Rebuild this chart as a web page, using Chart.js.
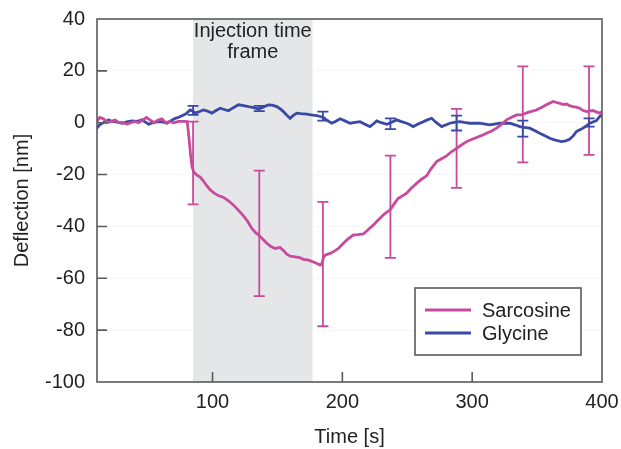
<!DOCTYPE html>
<html>
<head>
<meta charset="utf-8">
<script src="https://cdn.jsdelivr.net/npm/chart.js@4"></script>
<style>
  html, body { margin: 0; padding: 0; background: #fff; }
  #wrap { width: 621px; height: 449px; }
</style>
</head>
<body>
<div id="wrap"><canvas id="chart"></canvas></div>
<script>
// 曲线数据 (时间 s, 偏移 nm)
const sarcTime = [11, 13, 16, 19, 22, 25, 28, 31, 34, 37, 40, 43, 46, 49, 52, 55, 58, 61, 64, 67, 70, 74, 78, 80.5, 82, 83, 84.2, 85.5, 88, 90.5, 93, 95.7, 98, 100.8, 104, 108.5, 112, 116, 120, 124, 127, 130.3, 133, 135.4, 138, 141.8, 145, 148.2, 152, 155, 157.2, 160, 163.6, 167, 170, 174, 177.7, 180, 182.8, 184.2, 185.4, 187, 190.5, 193, 197, 200.8, 204, 208.5, 212, 216.2, 220, 223.8, 227, 231.5, 234, 236.7, 240, 243, 246, 249.5, 253, 257.2, 261, 264.9, 268, 272.6, 276, 280.3, 284, 288, 292, 295.7, 299, 303.4, 307, 311, 315, 318.8, 322, 326.5, 330, 334.2, 338, 343, 349.5, 353, 357.2, 360, 362.3, 365, 367.5, 370, 372.6, 375, 377.7, 380, 382.8, 385, 388, 391, 393, 396, 398.2, 400];
const sarcValues = [0.5, 2, 1.5, 0, 0.5, 1, 0, 0, -0.5, 0, 0.5, 0, 1, 2, 1, 0, 1, 1.5, 0, 0.5, 0, 0.5, 0.5, 0.4, -6.5, -12, -17, -19, -20.2, -21, -22.5, -24.4, -25.8, -27, -28, -28.8, -30, -31.7, -33.8, -36, -38, -40.8, -42.3, -43.3, -44.6, -46.5, -47.8, -48.5, -48.1, -49.5, -50.7, -51.5, -51.7, -52, -52.7, -53, -53.7, -54.2, -54.9, -54.5, -52, -51, -50.4, -49.8, -48.5, -46.5, -45, -43.3, -43.2, -42.9, -41.2, -39.5, -37.8, -35.6, -34.6, -33.7, -31.2, -29.2, -28.3, -27.2, -25.3, -23.4, -21.8, -20.5, -18, -15, -14, -12.8, -11.2, -9.9, -8.5, -7.3, -6.6, -5.7, -5, -4.1, -3.2, -2.1, -0.8, 1.1, 2, 3, 3, 4, 4.9, 5.8, 6.9, 7.6, 8.2, 7.8, 7.5, 7, 7.2, 6.6, 6.2, 6, 5.6, 4.8, 4.3, 4.6, 4.7, 4.1, 3.7, 4.3];

const glyTime = [11, 13, 15, 18, 20, 22, 25, 28, 30.3, 34, 38, 42, 45.7, 48, 50.8, 54, 58.5, 62, 64.9, 68, 71.3, 74, 77.7, 80, 82.8, 84.5, 86.7, 90, 93, 96, 99.5, 102, 105.9, 109, 112.3, 116, 120, 124, 127.7, 131, 135.4, 139, 143.1, 146, 149.5, 152, 154.6, 157, 159.8, 162, 164.9, 168, 172.6, 176, 180.3, 183, 185.4, 188, 191.8, 195, 198.2, 202, 205.9, 210, 213.6, 217, 221.3, 224, 226.5, 230, 234.2, 238, 241.8, 245, 249.5, 252, 254.6, 258, 262.3, 265, 268.8, 272, 276.5, 280, 282.8, 286, 290.5, 294, 298.2, 302, 305.9, 310, 313.6, 317, 321.3, 325, 329, 333, 336.7, 340, 344.4, 348, 352, 356, 359.8, 364, 368.8, 372, 375, 378, 380.3, 383, 385.4, 388, 390.5, 393, 395.7, 398.2, 400];
const glyValues = [-2.1, -0.8, -0.2, 0.5, 1.1, 0.6, 0.4, 0, -0.2, 0.3, 0.7, 0.5, 1.1, 0.3, -0.6, 0, 0.4, 0.2, -0.2, 0.8, 1.7, 2.1, 3, 3.6, 4.9, 4.5, 3.7, 4.3, 4.9, 4.5, 3.7, 4.5, 5.6, 5.1, 4.6, 5.8, 6.9, 6.6, 6.2, 5.9, 5.3, 6, 6.9, 6.8, 6.2, 5.4, 4.3, 3, 1.7, 2.7, 3.7, 3.5, 3.3, 3, 2.7, 2.4, 2, 1, -0.2, 0.6, 1.5, 0.7, -0.2, 0.1, 0.4, -0.5, -1.5, -0.4, 0.7, 0, -0.6, 0.2, 1.1, 0.5, -0.2, -0.8, -1.5, -0.6, 0.4, 1, 1.7, 0.2, -1.5, -0.8, -0.2, 0.1, 0.4, 0.1, -0.2, -0.2, -0.2, -0.5, -0.8, -0.5, -0.2, -0.2, -0.2, -0.8, -1.5, -1.8, -2.1, -3, -4.1, -5, -6, -6.7, -7.3, -7, -6.4, -5, -3.4, -2.7, -2.1, -1.2, -0.2, 0.3, 0.8, 2.4, 3];

// 误差棒
const errTimes = [85, 136, 185, 237, 288, 339, 390];
const sarcLow = [-31.5, -66.9, -78.5, -52.1, -25.1, -15.3, -12.4];
const sarcHigh = [0.4, -18.5, -30.5, -12.7, 5.3, 21.7, 21.7];
const glyLow = [3.0, 4.5, 0.8, -2.5, -3.0, -5.4, -1.5];
const glyHigh = [6.5, 6.5, 4.3, 1.7, 2.7, 0.8, 1.7];

// 注射时间窗口
const injectionStart = 85;
const injectionEnd = 177;
const injectionLabel = ['Injection time', 'frame'];

const xTickValues = [100, 200, 300, 400];
const seriesNames = ['Sarcosine', 'Glycine'];

const PINK = '#c84a9c';
const BLUE = '#3a49a6';
const AXIS = '#5a5a5a';
const FONT = '"Liberation Sans", Arial, Helvetica, sans-serif';

function toPoints(xs, ys) {
    return xs.map((x, i) => ({ x: x, y: ys[i] }));
}

// 阴影区域与文字
const shadePlugin = {
    id: 'shade',
    beforeDatasetsDraw(chart) {
        const { ctx, chartArea, scales } = chart;
        const x1 = scales.x.getPixelForValue(injectionStart);
        const x2 = scales.x.getPixelForValue(injectionEnd);
        ctx.save();
        ctx.fillStyle = '#e5e6e7';
        ctx.fillRect(x1, chartArea.top, x2 - x1, chartArea.bottom - chartArea.top);
        ctx.fillStyle = '#222';
        ctx.font = '20px ' + FONT;
        ctx.textAlign = 'center';
        ctx.textBaseline = 'alphabetic';
        const cx = (x1 + x2) / 2;
        ctx.fillText(injectionLabel[0], cx, chartArea.top + 18);
        ctx.fillText(injectionLabel[1], cx, chartArea.top + 39);
        ctx.restore();
    }
};

// 误差棒、边框、刻度与图例
const decorPlugin = {
    id: 'decor',
    afterDatasetsDraw(chart) {
        const { ctx, scales } = chart;
        const drawBars = (lows, highs, color) => {
            ctx.strokeStyle = color;
            ctx.lineWidth = 1.8;
            errTimes.forEach((t, i) => {
                const x = scales.x.getPixelForValue(t);
                const yl = scales.y.getPixelForValue(lows[i]);
                const yh = scales.y.getPixelForValue(highs[i]);
                ctx.beginPath();
                ctx.moveTo(x, yl); ctx.lineTo(x, yh);
                ctx.moveTo(x - 5.5, yl); ctx.lineTo(x + 5.5, yl);
                ctx.moveTo(x - 5.5, yh); ctx.lineTo(x + 5.5, yh);
                ctx.stroke();
            });
        };
        ctx.save();
        drawBars(sarcLow, sarcHigh, PINK);
        drawBars(glyLow, glyHigh, BLUE);
        ctx.restore();
    },
    afterDraw(chart) {
        const { ctx, chartArea, scales } = chart;
        ctx.save();
        ctx.strokeStyle = AXIS;
        ctx.lineWidth = 1.6;
        ctx.strokeRect(chartArea.left, chartArea.top, chartArea.right - chartArea.left, chartArea.bottom - chartArea.top);
        ctx.beginPath();
        scales.y.ticks.forEach(t => {
            if (t.value <= scales.y.min || t.value >= scales.y.max) return;
            const y = scales.y.getPixelForValue(t.value);
            ctx.moveTo(chartArea.left, y); ctx.lineTo(chartArea.left + 10, y);
        });
        scales.x.ticks.forEach(t => {
            if (t.value >= scales.x.max) return;
            const x = scales.x.getPixelForValue(t.value);
            ctx.moveTo(x, chartArea.bottom); ctx.lineTo(x, chartArea.bottom - 10);
        });
        ctx.stroke();

        // 图例
        const lx = chartArea.right - 187, ly = chartArea.bottom - 94;
        ctx.fillStyle = '#fff';
        ctx.fillRect(lx, ly, 166, 67);
        ctx.strokeStyle = AXIS;
        ctx.strokeRect(lx, ly, 166, 67);
        ctx.font = '20px ' + FONT;
        ctx.textBaseline = 'middle';
        ctx.textAlign = 'left';
        chart.data.datasets.forEach((ds, i) => {
            const y = ly + 22 + i * 23;
            ctx.strokeStyle = ds.borderColor;
            ctx.lineWidth = 2.8;
            ctx.beginPath();
            ctx.moveTo(lx + 10, y); ctx.lineTo(lx + 56, y);
            ctx.stroke();
            ctx.fillStyle = '#222';
            ctx.fillText(ds.label, lx + 67, y + 1);
        });
        ctx.restore();
    }
};

new Chart(document.getElementById('chart'), {
    type: 'line',
    data: {
        datasets: [
            {
                label: seriesNames[0],
                data: toPoints(sarcTime, sarcValues),
                borderColor: PINK,
                borderWidth: 2.8,
                pointRadius: 0,
                tension: 0
            },
            {
                label: seriesNames[1],
                data: toPoints(glyTime, glyValues),
                borderColor: BLUE,
                borderWidth: 2.8,
                pointRadius: 0,
                tension: 0
            }
        ]
    },
    options: {
        responsive: true,
        maintainAspectRatio: false,
        animation: false,
        layout: { padding: { top: 19, right: 19, left: 0, bottom: 0 } },
        scales: {
            x: {
                type: 'linear',
                min: 11,
                max: 400,
                afterBuildTicks: axis => { axis.ticks = xTickValues.map(v => ({ value: v })); },
                afterFit: axis => { axis.height = 67; axis.paddingLeft = 0; axis.paddingRight = 0; },
                grid: { display: false, drawTicks: false },
                border: { display: false },
                ticks: { color: '#222', font: { family: FONT, size: 20 }, padding: 8 },
                title: { display: true, text: 'Time [s]', color: '#222', font: { family: FONT, size: 20 }, padding: { top: 0, bottom: 0 } }
            },
            y: {
                min: -100,
                max: 40,
                afterFit: axis => { axis.width = 97; axis.paddingTop = 0; axis.paddingBottom = 0; },
                grid: { color: 'rgba(0,0,0,0.035)', drawTicks: false },
                border: { display: false },
                ticks: { stepSize: 20, color: '#222', font: { family: FONT, size: 20 }, padding: 12 },
                title: { display: true, text: 'Deflection [nm]', color: '#222', font: { family: FONT, size: 20 }, padding: { top: 10, bottom: 0 } }
            }
        },
        plugins: {
            legend: { display: false },
            tooltip: { enabled: false }
        }
    },
    plugins: [shadePlugin, decorPlugin]
});
</script>
</body>
</html>
